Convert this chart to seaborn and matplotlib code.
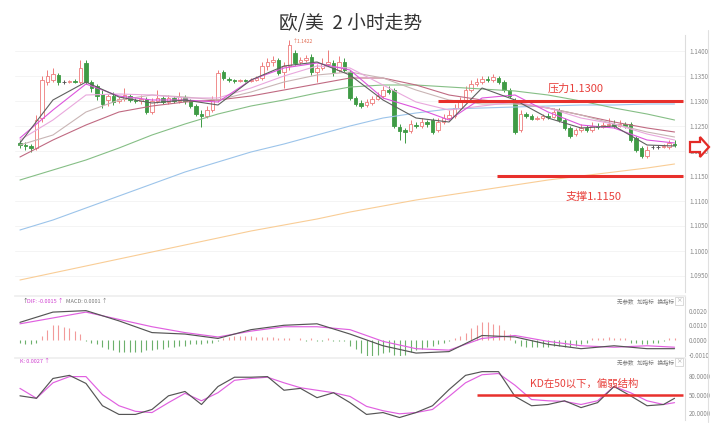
import numpy as np
import matplotlib
matplotlib.use("Agg")
import matplotlib.pyplot as plt
from matplotlib.patches import Polygon
from matplotlib.lines import Line2D
import seaborn as sns

# 欧/美 2小时K线 (开 / 高 / 低 / 收)
opens = [1.1215, 1.1211, 1.1209, 1.1205, 1.1265, 1.1337, 1.1341, 1.1351, 1.1337, 1.1337,
         1.1339, 1.1337, 1.1375, 1.1337, 1.1329, 1.1313, 1.1301, 1.1309, 1.1299, 1.1303,
         1.1309, 1.1301, 1.1299, 1.1303, 1.1277, 1.1299, 1.1305, 1.1297, 1.1305, 1.1299,
         1.1307, 1.1299, 1.1289, 1.1273, 1.1269, 1.1281, 1.1301, 1.1357, 1.1343, 1.1341,
         1.1339, 1.1341, 1.1339, 1.1341, 1.1345, 1.1369, 1.1377, 1.1381, 1.1357, 1.1369,
         1.1395, 1.1377, 1.1381, 1.1387, 1.1357, 1.1365, 1.1373, 1.1375, 1.1361, 1.1377,
         1.1357, 1.1305, 1.1295, 1.1291, 1.1295, 1.1303, 1.1309, 1.1321, 1.1321, 1.1247,
         1.1241, 1.1239, 1.1251, 1.1249, 1.1257, 1.1261, 1.1241, 1.1257, 1.1265, 1.1269,
         1.1285, 1.1301, 1.1321, 1.1333, 1.1337, 1.1343, 1.1341, 1.1345, 1.1337, 1.1321,
         1.1301, 1.1241, 1.1273, 1.1269, 1.1263, 1.1265, 1.1269, 1.1267, 1.1281, 1.1261,
         1.1245, 1.1233, 1.1241, 1.1245, 1.1241, 1.1249, 1.1247, 1.1251, 1.1253, 1.1249,
         1.1253, 1.1253, 1.1225, 1.1205, 1.1189, 1.1207, 1.1207, 1.1207, 1.1207, 1.1213]
closes = [1.1211, 1.1209, 1.1205, 1.1261, 1.1341, 1.1349, 1.1353, 1.1337, 1.1337, 1.1339,
          1.1337, 1.1365, 1.1337, 1.1325, 1.1309, 1.1293, 1.1309, 1.1297, 1.1303, 1.1311,
          1.1301, 1.1299, 1.1303, 1.1277, 1.1299, 1.1305, 1.1297, 1.1305, 1.1299, 1.1307,
          1.1299, 1.1289, 1.1273, 1.1269, 1.1281, 1.1301, 1.1355, 1.1345, 1.1341, 1.1339,
          1.1341, 1.1339, 1.1341, 1.1345, 1.1369, 1.1377, 1.1381, 1.1355, 1.1369, 1.1411,
          1.1375, 1.1381, 1.1385, 1.1357, 1.1365, 1.1373, 1.1377, 1.1357, 1.1377, 1.1361,
          1.1305, 1.1293, 1.1289, 1.1297, 1.1303, 1.1309, 1.1321, 1.1317, 1.1249, 1.1239,
          1.1237, 1.1253, 1.1249, 1.1257, 1.1253, 1.1237, 1.1257, 1.1265, 1.1271, 1.1285,
          1.1301, 1.1321, 1.1333, 1.1337, 1.1343, 1.1341, 1.1347, 1.1337, 1.1321, 1.1309,
          1.1237, 1.1273, 1.1269, 1.1263, 1.1265, 1.1269, 1.1267, 1.1277, 1.1261, 1.1245,
          1.1229, 1.1241, 1.1245, 1.1241, 1.1249, 1.1247, 1.1251, 1.1253, 1.1249, 1.1253,
          1.1249, 1.1221, 1.1201, 1.1189, 1.1201, 1.1207, 1.1207, 1.1209, 1.1215, 1.1211]
highs = [1.1221, 1.1217, 1.1213, 1.1271, 1.1349, 1.1361, 1.1365, 1.1355, 1.1341, 1.1341,
         1.1343, 1.1381, 1.1381, 1.1341, 1.1333, 1.1321, 1.1313, 1.1317, 1.1307, 1.1325,
         1.1313, 1.1305, 1.1311, 1.1307, 1.1305, 1.1321, 1.1309, 1.1311, 1.1309, 1.1317,
         1.1311, 1.1303, 1.1293, 1.1281, 1.1289, 1.1309, 1.1361, 1.1361, 1.1347, 1.1343,
         1.1343, 1.1343, 1.1345, 1.1349, 1.1377, 1.1385, 1.1389, 1.1385, 1.1377, 1.1421,
         1.1401, 1.1387, 1.1391, 1.1393, 1.1373, 1.1385, 1.1401, 1.1381, 1.1389, 1.1385,
         1.1361, 1.1309, 1.1301, 1.1303, 1.1309, 1.1317, 1.1329, 1.1329, 1.1325, 1.1253,
         1.1245, 1.1261, 1.1257, 1.1265, 1.1261, 1.1265, 1.1265, 1.1273, 1.1281, 1.1293,
         1.1307, 1.1329, 1.1341, 1.1345, 1.1349, 1.1349, 1.1353, 1.1349, 1.1341, 1.1325,
         1.1305, 1.1281, 1.1277, 1.1273, 1.1269, 1.1273, 1.1275, 1.1285, 1.1285, 1.1265,
         1.1249, 1.1245, 1.1253, 1.1251, 1.1257, 1.1255, 1.1257, 1.1265, 1.1261, 1.1261,
         1.1257, 1.1257, 1.1229, 1.1209, 1.1209, 1.1211, 1.1211, 1.1213, 1.1221, 1.1221]
lows = [1.1205, 1.1201, 1.1197, 1.1201, 1.1257, 1.1331, 1.1337, 1.1331, 1.1333, 1.1335,
        1.1335, 1.1333, 1.1333, 1.1317, 1.1301, 1.1285, 1.1289, 1.1291, 1.1295, 1.1299,
        1.1297, 1.1295, 1.1293, 1.1273, 1.1273, 1.1295, 1.1293, 1.1293, 1.1295, 1.1295,
        1.1293, 1.1285, 1.1269, 1.1247, 1.1265, 1.1277, 1.1297, 1.1341, 1.1337, 1.1335,
        1.1337, 1.1337, 1.1337, 1.1339, 1.1341, 1.1361, 1.1369, 1.1351, 1.1325, 1.1361,
        1.1371, 1.1373, 1.1377, 1.1351, 1.1337, 1.1361, 1.1369, 1.1349, 1.1357, 1.1357,
        1.1301, 1.1289, 1.1285, 1.1287, 1.1291, 1.1301, 1.1305, 1.1313, 1.1245, 1.1221,
        1.1215, 1.1235, 1.1245, 1.1245, 1.1247, 1.1233, 1.1237, 1.1253, 1.1261, 1.1265,
        1.1281, 1.1297, 1.1317, 1.1329, 1.1333, 1.1337, 1.1337, 1.1333, 1.1317, 1.1305,
        1.1233, 1.1237, 1.1265, 1.1261, 1.1261, 1.1261, 1.1263, 1.1265, 1.1257, 1.1241,
        1.1225, 1.1229, 1.1237, 1.1237, 1.1237, 1.1243, 1.1245, 1.1247, 1.1245, 1.1247,
        1.1245, 1.1217, 1.1197, 1.1185, 1.1185, 1.1203, 1.1203, 1.1205, 1.1203, 1.1207]

# 均线 (每6根K线读一个点)
ma_idx = [0, 6, 12, 18, 24, 30, 36, 42, 48, 54, 60, 66, 72, 78, 84, 90, 96, 102, 108, 114, 119]
ma5 = [1.1215, 1.1301, 1.1337, 1.1307, 1.1295, 1.1301, 1.1291, 1.1341, 1.1369, 1.1377, 1.1351,
       1.1301, 1.1265, 1.1257, 1.1325, 1.1301, 1.1265, 1.1245, 1.1249, 1.1211, 1.1209]
ma10 = [1.1225, 1.1281, 1.1333, 1.1309, 1.1301, 1.1301, 1.1297, 1.1341, 1.1365, 1.1375, 1.1361,
        1.1305, 1.1285, 1.1261, 1.1305, 1.1311, 1.1277, 1.1251, 1.1245, 1.1221, 1.1215]
ma20 = [1.1221, 1.1261, 1.1311, 1.1313, 1.1311, 1.1305, 1.1305, 1.1325, 1.1349, 1.1369, 1.1365,
        1.1331, 1.1297, 1.1281, 1.1289, 1.1297, 1.1285, 1.1265, 1.1253, 1.1233, 1.1221]
ma30 = [1.1211, 1.1231, 1.1277, 1.1301, 1.1311, 1.1307, 1.1301, 1.1317, 1.1337, 1.1351, 1.1357,
        1.1345, 1.1321, 1.1301, 1.1293, 1.1293, 1.1285, 1.1271, 1.1253, 1.1237, 1.1227]
ma60 = [1.1187, 1.1221, 1.1251, 1.1277, 1.1289, 1.1297, 1.1301, 1.1309, 1.1321, 1.1333, 1.1345,
        1.1345, 1.1331, 1.1311, 1.1301, 1.1295, 1.1285, 1.1271, 1.1257, 1.1245, 1.1237]
ma120 = [1.1141, 1.1161, 1.1181, 1.1205, 1.1231, 1.1253, 1.1273, 1.1289, 1.1301, 1.1315, 1.1327,
         1.1331, 1.1331, 1.1327, 1.1323, 1.1319, 1.1311, 1.1299, 1.1285, 1.1273, 1.1261]
ma250 = [1.1041, 1.1061, 1.1085, 1.1109, 1.1133, 1.1157, 1.1177, 1.1197, 1.1213, 1.1231, 1.1249,
         1.1265, 1.1275, 1.1283, 1.1285, 1.1287, 1.1289, 1.1291, 1.1291, 1.1293, 1.1293]
ma500 = [1.0941, 1.0955, 1.0969, 1.0983, 1.0997, 1.1011, 1.1025, 1.1039, 1.1051, 1.1063, 1.1077,
         1.1089, 1.1101, 1.1111, 1.1121, 1.1131, 1.1141, 1.1149, 1.1157, 1.1165, 1.1173]

price_ticks = [1.0950, 1.1000, 1.1050, 1.1100, 1.1150, 1.1200, 1.1250, 1.1300, 1.1350, 1.1400]
resistance = 1.1300
support = 1.1150
peak_label = "1.1422"

# MACD
dif = [0.0012, 0.0019, 0.0020, 0.0013, 0.0005, 0.0004, 0.0001, 0.0007, 0.0010, 0.0011, 0.0004,
       -0.0004, -0.0009, -0.0008, 0.0003, 0.0002, -0.0003, -0.0006, -0.0004, -0.0006, -0.0006]
dea = [0.0011, 0.0015, 0.0019, 0.0014, 0.0009, 0.0005, 0.0002, 0.0006, 0.0009, 0.0009, 0.0007,
       -0.0001, -0.0006, -0.0007, 0.0001, 0.0003, -0.0001, -0.0004, -0.0005, -0.0004, -0.0005]
macd_hist = [-0.0002, -0.0003, -0.0003, -0.0002,
             0.0003, 0.0007, 0.0010, 0.0010, 0.0009, 0.0008, 0.0006, 0.0004,
             -0.0001, -0.0002, -0.0003, -0.0005, -0.0006, -0.0007, -0.0008, -0.0008, -0.0008, -0.0008,
             -0.0008, -0.0007, -0.0007, -0.0006, -0.0006, -0.0005, -0.0005, -0.0004, -0.0004, -0.0003,
             -0.0003, -0.0003, -0.0002, -0.0002, -0.0001,
             0.0001, 0.0002, 0.0003, 0.0003, 0.0003, 0.0003, 0.0002, 0.0002, 0.0002, 0.0002, 0.0001,
             0.0001, 0.0001, 0.0000, 0.0001, -0.0001, 0.0001, -0.0001, -0.0001, 0.0001, -0.0001,
             -0.0001, -0.0001,
             -0.0004, -0.0006, -0.0009, -0.0011, -0.0011, -0.0010, -0.0009, -0.0008, -0.0010, -0.0011,
             -0.0010,
             -0.0008, -0.0007, -0.0006, -0.0005, -0.0004, -0.0003, -0.0002, -0.0001,
             0.0001, 0.0003, 0.0005, 0.0008, 0.0010, 0.0012, 0.0012, 0.0011, 0.0010, 0.0007, 0.0004,
             -0.0002, -0.0004, -0.0005, -0.0005, -0.0005, -0.0005, -0.0005, -0.0004, -0.0004, -0.0005,
             -0.0005, -0.0004, -0.0003, -0.0002,
             0.0001, 0.0001, 0.0001, 0.0002, 0.0001, 0.0001, 0.0001,
             -0.0002, -0.0002, -0.0003, -0.0003, -0.0002, -0.0002, -0.0001,
             0.0001, 0.0001]
macd_ticks = [0.0020, 0.0010, 0.0000, -0.0010]

# KD (每3根K线读一个点)
kd_idx = list(range(0, 118, 3)) + [119]
k_vals = [48, 44, 76, 81, 68, 32, 18, 18, 26, 48, 55, 34, 63, 78, 78, 79, 57, 60, 45, 53, 37,
          18, 21, 13, 21, 32, 58, 81, 87, 87, 47, 32, 34, 40, 29, 37, 63, 48, 32, 34, 44]
d_vals = [60, 44, 69, 79, 79, 50, 32, 23, 21, 37, 52, 40, 53, 73, 76, 78, 69, 61, 57, 53, 47,
          31, 24, 19, 21, 26, 47, 69, 82, 84, 65, 42, 40, 39, 34, 40, 63, 53, 40, 34, 37]
kd_ticks = [80, 50, 20]

RED = "#ee7b7b"
GREEN = "#3f9b45"
LINE_RED = "#e8302c"

sns.set_theme(style="white")
plt.rcParams['font.family'] = ['Noto Sans CJK SC', 'DejaVu Sans']
plt.rcParams['axes.unicode_minus'] = False

W, H = 720, 428
fig = plt.figure(figsize=(7.2, 4.28), dpi=100)
fig.patch.set_facecolor("white")


def px(x0, y0, x1, y1):
    # 像素框 -> figure坐标
    return [x0 / W, 1 - y1 / H, (x1 - x0) / W, (y1 - y0) / H]


ax = fig.add_axes(px(15, 35, 685, 292))
ax_macd = fig.add_axes(px(15, 296, 685, 356))
ax_kd = fig.add_axes(px(15, 358, 685, 420))

for a in (ax, ax_macd, ax_kd):
    a.set_facecolor("white")
    a.set_xlim(-0.9, 120.9)
    a.set_xticks([])
    for s in ("left", "bottom", "top"):
        a.spines[s].set_visible(False)
    a.spines["right"].set_color("#dddddd")
    a.spines["right"].set_linewidth(0.8)
    a.yaxis.tick_right()
    a.tick_params(axis="y", labelsize=4.5, colors="#8a8a8a", length=0, pad=3)

ax_macd.spines["top"].set_visible(True)
ax_macd.spines["top"].set_color("#eeeeee")
ax_kd.spines["top"].set_visible(True)
ax_kd.spines["top"].set_color("#eeeeee")

# ---- 主图 K线 ----
o = np.array(opens)
c = np.array(closes)
hi = np.array(highs)
lo = np.array(lows)
idx = np.arange(len(c))
edge = np.where(c > o, RED, np.where(c < o, GREEN, "#555555"))
face = np.where(c > o, "white", np.where(c < o, GREEN, "#555555"))
ax.vlines(idx, lo, hi, colors=edge, lw=0.7, zorder=3)
ax.bar(idx, np.maximum(np.abs(c - o), 0.00009), bottom=np.minimum(o, c), width=0.7,
       color=face, edgecolor=edge, linewidth=0.6, zorder=4)

ma_styles = [(ma500, "#f9cd96"), (ma250, "#9cc4ea"), (ma120, "#86bf86"), (ma60, "#c06a82"),
             (ma30, "#c9b5b5"), (ma20, "#e9a8dd"), (ma10, "#dd55dd"), (ma5, "#606060")]
for vals, col in ma_styles:
    sns.lineplot(x=ma_idx, y=vals, ax=ax, color=col, linewidth=0.8, legend=False, zorder=5)

ax.set_ylim(1.0917, 1.1431)
ax.set_yticks(price_ticks)
ax.set_yticklabels([f"{t:.4f}" for t in price_ticks])
for t in price_ticks:
    ax.axhline(t, color="#f2f2f2", lw=0.6, zorder=0)

ax.hlines(resistance, 76, 120.5, color=LINE_RED, lw=2.2, zorder=6)
ax.text(101.1, 1.1323, f"压力{resistance:.4f}", color="#e8403c", fontsize=8,
        ha="center", va="center", zorder=7)
ax.hlines(support, 86.7, 120.5, color=LINE_RED, lw=2.2, zorder=6)
ax.text(104.2, 1.1107, f"支撑{support:.4f}", color="#e8403c", fontsize=8,
        ha="center", va="center", zorder=7)
ax.text(49.6, 1.1419, "↑" + peak_label, color="#e06a50", fontsize=3.6, ha="left",
        va="center", zorder=7)
ax.set_xlabel("")
ax.set_ylabel("")

# ---- MACD ----
hist = np.array(macd_hist)
ax_macd.vlines(idx, 0, hist, colors=np.where(hist > 0, "#f29a9a", "#6cb06c"), lw=0.8)
sns.lineplot(x=ma_idx, y=dea, ax=ax_macd, color="#e060e0", linewidth=0.85, legend=False)
sns.lineplot(x=ma_idx, y=dif, ax=ax_macd, color="#555555", linewidth=0.85, legend=False)
ax_macd.set_ylim(-0.0011, 0.0030)
ax_macd.set_yticks(macd_ticks)
ax_macd.set_yticklabels([f"{t:.4f}" for t in macd_ticks])
ax_macd.set_xlabel("")
ax_macd.set_ylabel("")

# ---- KD ----
sns.lineplot(x=kd_idx, y=d_vals, ax=ax_kd, color="#e060e0", linewidth=0.85, legend=False)
sns.lineplot(x=kd_idx, y=k_vals, ax=ax_kd, color="#555555", linewidth=0.85, legend=False)
ax_kd.hlines(50, 83, 120.5, color=LINE_RED, lw=1.8, zorder=6)
ax_kd.text(102.5, 68, "KD在50以下，偏弱结构", color="#e8403c", fontsize=7.5,
           ha="center", va="center", zorder=7)
ax_kd.set_ylim(9, 109)
ax_kd.set_yticks(kd_ticks)
ax_kd.set_yticklabels([f"{t:.4f}" for t in kd_ticks])
ax_kd.set_xlabel("")
ax_kd.set_ylabel("")

# ---- 标题与标注 ----
fig.text(351 / W, 1 - 24 / H, "欧/美  2 小时走势", fontsize=13.5, color="#333333",
         ha="center", va="center")

fig.text(22 / W, 1 - 301 / H, "↑", fontsize=4, color="#555555", va="center")
fig.text(27 / W, 1 - 301 / H, "DIF: -0.0015 ↑", fontsize=4, color="#d040d0", va="center")
fig.text(66 / W, 1 - 301 / H, "MACD: 0.0001 ↑", fontsize=4, color="#777777", va="center")
fig.text(20 / W, 1 - 361 / H, "K: 0.0027 ↑", fontsize=4, color="#d040d0", va="center")

for yb in (301, 362):
    fig.text(617 / W, 1 - yb / H, "无参数   加指标   换指标", fontsize=4, color="#777777",
             va="center")
    fig.text(679 / W, 1 - yb / H, "×", fontsize=4, color="#999999", va="center", ha="center",
             bbox=dict(boxstyle="square,pad=0.2", fc="white", ec="#cccccc", lw=0.5))

fig.add_artist(Line2D([708 / W, 708 / W], [1 - 30 / H, 1 - 422 / H], color="#e0e0e0", lw=0.8))

arrow_px = [(690, 142), (700, 142), (700, 137), (709, 147), (700, 157), (700, 152), (690, 152)]
fig.add_artist(Polygon([(x / W, 1 - y / H) for x, y in arrow_px], closed=True,
                       facecolor="white", edgecolor="#e32b27", lw=1.6, zorder=10))

fig.savefig("out.png", dpi=100)
